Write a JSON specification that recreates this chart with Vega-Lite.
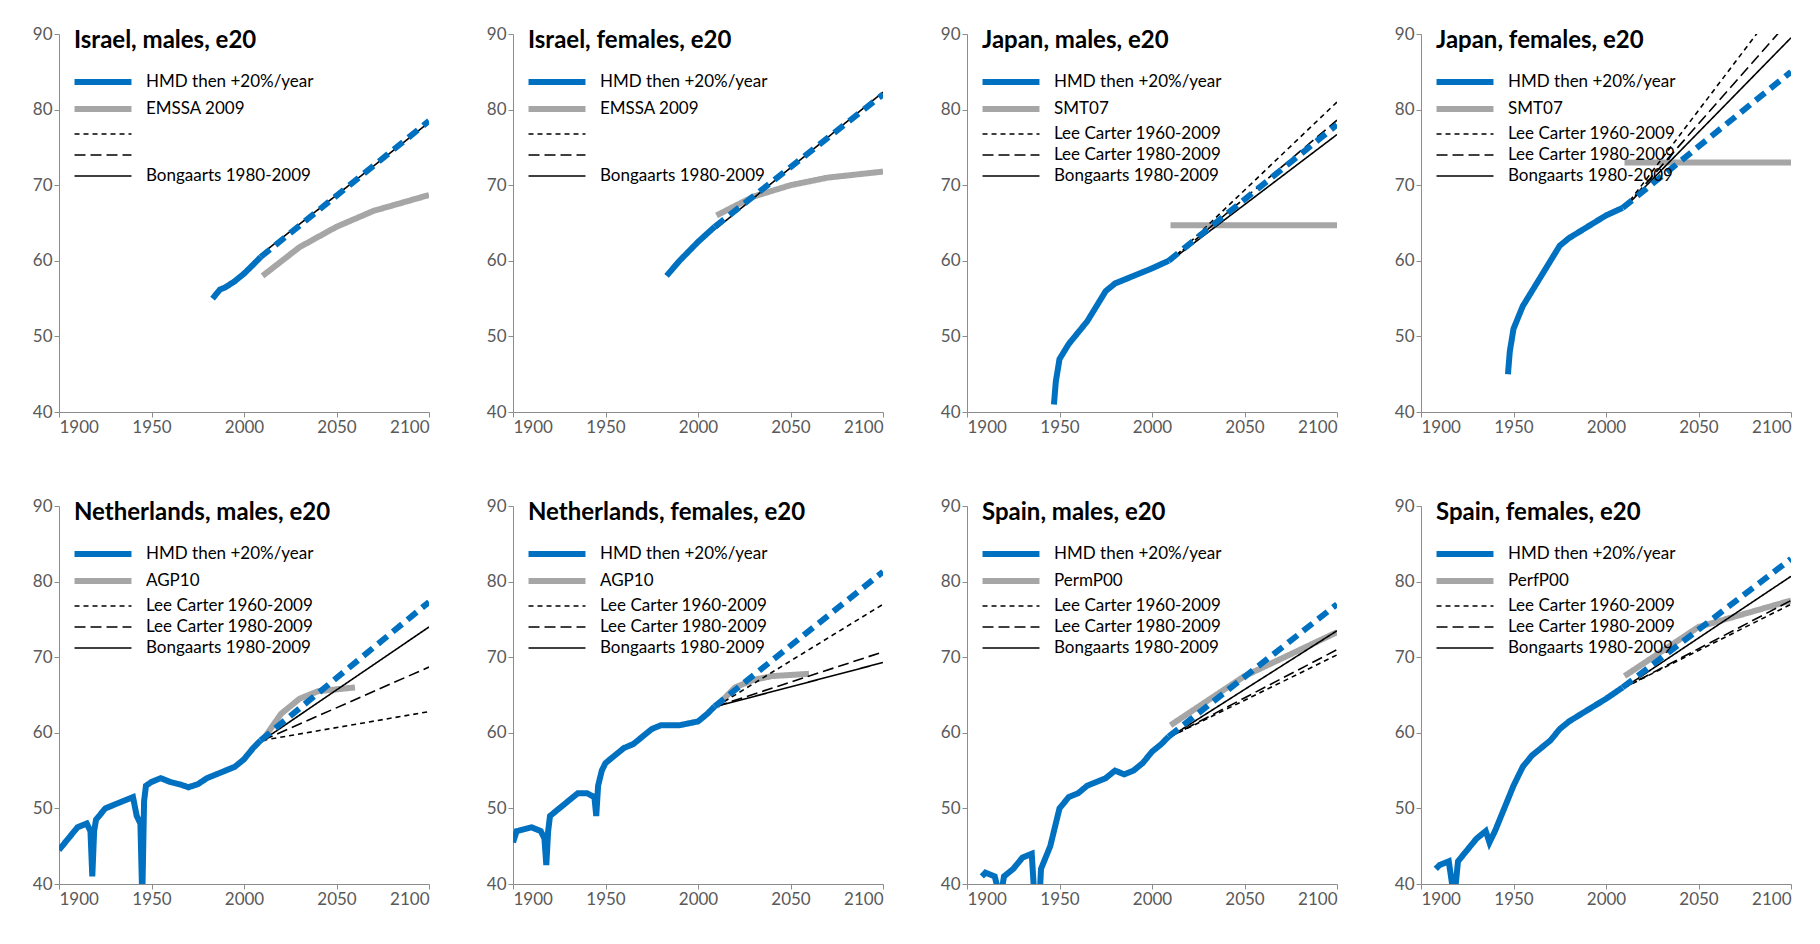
{
"$schema":"https://vega.github.io/schema/vega-lite/v6.json",
"background":"white",
"padding":{"left":32,"top":25,"right":15,"bottom":5},
"spacing":{"row":62,"column":56},
"columns":4,
"config":{"font":"Lato","view":{"stroke":null},
"axis":{"grid":false,"title":null,"labelFontSize":17,"labelColor":"#595959","domainColor":"#8c8c8c","tickColor":"#8c8c8c","labelFont":"Lato"},
"title":{"font":"Lato","fontSize":24,"fontWeight":"bold","anchor":"start","frame":"group","dx":15,"dy":32,"color":"black"},
"legend":{"orient":"none","legendX":30,"legendY":34,"labelFontSize":17,"labelFont":"Lato","symbolType":"M-2.6,0L2.6,0","symbolSize":480,"rowPadding":1,"labelOffset":29,"labelColor":"black","title":null,"labelLimit":300}},
"datasets":{"d":[
{"p":1,"s":"HMD then +20%/year","x":1983,"y":55},{"p":1,"s":"HMD then +20%/year","x":1987,"y":56.2},{"p":1,"s":"HMD then +20%/year","x":1990,"y":56.5},{"p":1,"s":"HMD then +20%/year","x":1995,"y":57.3},{"p":1,"s":"HMD then +20%/year","x":2000,"y":58.3},{"p":1,"s":"HMD then +20%/year","x":2005,"y":59.5},{"p":1,"s":"HMD then +20%/year","x":2009,"y":60.5},
{"p":1,"s":"HMDp","x":2009,"y":60.5},{"p":1,"s":"HMDp","x":2100,"y":78.5},
{"p":1,"s":"EMSSA 2009","x":2010,"y":58},{"p":1,"s":"EMSSA 2009","x":2030,"y":61.8},{"p":1,"s":"EMSSA 2009","x":2050,"y":64.5},{"p":1,"s":"EMSSA 2009","x":2070,"y":66.6},{"p":1,"s":"EMSSA 2009","x":2100,"y":68.7},
{"p":1,"s":"Bongaarts 1980-2009","x":2010,"y":61},{"p":1,"s":"Bongaarts 1980-2009","x":2100,"y":78.3},

{"p":2,"s":"HMD then +20%/year","x":1983,"y":58},{"p":2,"s":"HMD then +20%/year","x":1990,"y":60},{"p":2,"s":"HMD then +20%/year","x":2000,"y":62.5},{"p":2,"s":"HMD then +20%/year","x":2009,"y":64.5},
{"p":2,"s":"HMDp","x":2009,"y":64.5},{"p":2,"s":"HMDp","x":2100,"y":82},
{"p":2,"s":"EMSSA 2009","x":2010,"y":66},{"p":2,"s":"EMSSA 2009","x":2030,"y":68.5},{"p":2,"s":"EMSSA 2009","x":2050,"y":70},{"p":2,"s":"EMSSA 2009","x":2070,"y":71},{"p":2,"s":"EMSSA 2009","x":2100,"y":71.8},
{"p":2,"s":"Bongaarts 1980-2009","x":2010,"y":64.3},{"p":2,"s":"Bongaarts 1980-2009","x":2100,"y":82.3},

{"p":3,"s":"HMD then +20%/year","x":1947,"y":41},{"p":3,"s":"HMD then +20%/year","x":1948,"y":44},{"p":3,"s":"HMD then +20%/year","x":1950,"y":47},{"p":3,"s":"HMD then +20%/year","x":1955,"y":49},{"p":3,"s":"HMD then +20%/year","x":1960,"y":50.5},{"p":3,"s":"HMD then +20%/year","x":1965,"y":52},{"p":3,"s":"HMD then +20%/year","x":1970,"y":54},{"p":3,"s":"HMD then +20%/year","x":1975,"y":56},{"p":3,"s":"HMD then +20%/year","x":1980,"y":57},{"p":3,"s":"HMD then +20%/year","x":1985,"y":57.5},{"p":3,"s":"HMD then +20%/year","x":1990,"y":58},{"p":3,"s":"HMD then +20%/year","x":1995,"y":58.5},{"p":3,"s":"HMD then +20%/year","x":2000,"y":59},{"p":3,"s":"HMD then +20%/year","x":2009,"y":60},
{"p":3,"s":"HMDp","x":2009,"y":60},{"p":3,"s":"HMDp","x":2100,"y":78},
{"p":3,"s":"SMT07","x":2010,"y":64.7},{"p":3,"s":"SMT07","x":2100,"y":64.7},
{"p":3,"s":"Lee Carter 1960-2009","x":2010,"y":60},{"p":3,"s":"Lee Carter 1960-2009","x":2100,"y":81},
{"p":3,"s":"Lee Carter 1980-2009","x":2010,"y":60},{"p":3,"s":"Lee Carter 1980-2009","x":2100,"y":78.6},
{"p":3,"s":"Bongaarts 1980-2009","x":2010,"y":60},{"p":3,"s":"Bongaarts 1980-2009","x":2100,"y":76.7},

{"p":4,"s":"HMD then +20%/year","x":1947,"y":45},{"p":4,"s":"HMD then +20%/year","x":1948,"y":48},{"p":4,"s":"HMD then +20%/year","x":1950,"y":51},{"p":4,"s":"HMD then +20%/year","x":1955,"y":54},{"p":4,"s":"HMD then +20%/year","x":1960,"y":56},{"p":4,"s":"HMD then +20%/year","x":1965,"y":58},{"p":4,"s":"HMD then +20%/year","x":1970,"y":60},{"p":4,"s":"HMD then +20%/year","x":1975,"y":62},{"p":4,"s":"HMD then +20%/year","x":1980,"y":63},{"p":4,"s":"HMD then +20%/year","x":1990,"y":64.5},{"p":4,"s":"HMD then +20%/year","x":2000,"y":66},{"p":4,"s":"HMD then +20%/year","x":2009,"y":67},
{"p":4,"s":"HMDp","x":2009,"y":67},{"p":4,"s":"HMDp","x":2100,"y":85},
{"p":4,"s":"SMT07","x":2010,"y":73},{"p":4,"s":"SMT07","x":2100,"y":73},
{"p":4,"s":"Lee Carter 1960-2009","x":2010,"y":67},{"p":4,"s":"Lee Carter 1960-2009","x":2100,"y":96},
{"p":4,"s":"Lee Carter 1980-2009","x":2010,"y":67},{"p":4,"s":"Lee Carter 1980-2009","x":2100,"y":92},
{"p":4,"s":"Bongaarts 1980-2009","x":2010,"y":67},{"p":4,"s":"Bongaarts 1980-2009","x":2100,"y":89.5},

{"p":5,"s":"HMD then +20%/year","x":1900,"y":44.5},{"p":5,"s":"HMD then +20%/year","x":1905,"y":46},{"p":5,"s":"HMD then +20%/year","x":1910,"y":47.5},{"p":5,"s":"HMD then +20%/year","x":1915,"y":48},{"p":5,"s":"HMD then +20%/year","x":1917,"y":47},{"p":5,"s":"HMD then +20%/year","x":1918,"y":41},{"p":5,"s":"HMD then +20%/year","x":1919,"y":47},{"p":5,"s":"HMD then +20%/year","x":1920,"y":48.5},{"p":5,"s":"HMD then +20%/year","x":1925,"y":50},{"p":5,"s":"HMD then +20%/year","x":1930,"y":50.5},{"p":5,"s":"HMD then +20%/year","x":1935,"y":51},{"p":5,"s":"HMD then +20%/year","x":1940,"y":51.5},{"p":5,"s":"HMD then +20%/year","x":1942,"y":49},{"p":5,"s":"HMD then +20%/year","x":1944,"y":48},{"p":5,"s":"HMD then +20%/year","x":1945,"y":38},{"p":5,"s":"HMD then +20%/year","x":1946,"y":51},{"p":5,"s":"HMD then +20%/year","x":1947,"y":53},{"p":5,"s":"HMD then +20%/year","x":1950,"y":53.5},{"p":5,"s":"HMD then +20%/year","x":1955,"y":54},{"p":5,"s":"HMD then +20%/year","x":1960,"y":53.5},{"p":5,"s":"HMD then +20%/year","x":1965,"y":53.2},{"p":5,"s":"HMD then +20%/year","x":1970,"y":52.8},{"p":5,"s":"HMD then +20%/year","x":1975,"y":53.2},{"p":5,"s":"HMD then +20%/year","x":1980,"y":54},{"p":5,"s":"HMD then +20%/year","x":1985,"y":54.5},{"p":5,"s":"HMD then +20%/year","x":1990,"y":55},{"p":5,"s":"HMD then +20%/year","x":1995,"y":55.5},{"p":5,"s":"HMD then +20%/year","x":2000,"y":56.5},{"p":5,"s":"HMD then +20%/year","x":2005,"y":58},{"p":5,"s":"HMD then +20%/year","x":2009,"y":59},
{"p":5,"s":"HMDp","x":2009,"y":59},{"p":5,"s":"HMDp","x":2100,"y":77.3},
{"p":5,"s":"AGP10","x":2010,"y":59},{"p":5,"s":"AGP10","x":2020,"y":62.5},{"p":5,"s":"AGP10","x":2030,"y":64.5},{"p":5,"s":"AGP10","x":2040,"y":65.5},{"p":5,"s":"AGP10","x":2060,"y":66},
{"p":5,"s":"Lee Carter 1960-2009","x":2010,"y":59},{"p":5,"s":"Lee Carter 1960-2009","x":2100,"y":62.8},
{"p":5,"s":"Lee Carter 1980-2009","x":2010,"y":59},{"p":5,"s":"Lee Carter 1980-2009","x":2100,"y":68.7},
{"p":5,"s":"Bongaarts 1980-2009","x":2010,"y":59},{"p":5,"s":"Bongaarts 1980-2009","x":2100,"y":74},

{"p":6,"s":"HMD then +20%/year","x":1900,"y":45.5},{"p":6,"s":"HMD then +20%/year","x":1902,"y":47},{"p":6,"s":"HMD then +20%/year","x":1910,"y":47.5},{"p":6,"s":"HMD then +20%/year","x":1915,"y":47},{"p":6,"s":"HMD then +20%/year","x":1917,"y":46},{"p":6,"s":"HMD then +20%/year","x":1918,"y":42.5},{"p":6,"s":"HMD then +20%/year","x":1919,"y":47},{"p":6,"s":"HMD then +20%/year","x":1920,"y":49},{"p":6,"s":"HMD then +20%/year","x":1925,"y":50},{"p":6,"s":"HMD then +20%/year","x":1930,"y":51},{"p":6,"s":"HMD then +20%/year","x":1935,"y":52},{"p":6,"s":"HMD then +20%/year","x":1940,"y":52},{"p":6,"s":"HMD then +20%/year","x":1944,"y":51.5},{"p":6,"s":"HMD then +20%/year","x":1945,"y":49},{"p":6,"s":"HMD then +20%/year","x":1946,"y":53},{"p":6,"s":"HMD then +20%/year","x":1948,"y":55},{"p":6,"s":"HMD then +20%/year","x":1950,"y":56},{"p":6,"s":"HMD then +20%/year","x":1955,"y":57},{"p":6,"s":"HMD then +20%/year","x":1960,"y":58},{"p":6,"s":"HMD then +20%/year","x":1965,"y":58.5},{"p":6,"s":"HMD then +20%/year","x":1970,"y":59.5},{"p":6,"s":"HMD then +20%/year","x":1975,"y":60.5},{"p":6,"s":"HMD then +20%/year","x":1980,"y":61},{"p":6,"s":"HMD then +20%/year","x":1990,"y":61},{"p":6,"s":"HMD then +20%/year","x":2000,"y":61.5},{"p":6,"s":"HMD then +20%/year","x":2005,"y":62.5},{"p":6,"s":"HMD then +20%/year","x":2009,"y":63.5},
{"p":6,"s":"HMDp","x":2009,"y":63.5},{"p":6,"s":"HMDp","x":2100,"y":81.3},
{"p":6,"s":"AGP10","x":2010,"y":63.5},{"p":6,"s":"AGP10","x":2020,"y":66},{"p":6,"s":"AGP10","x":2030,"y":67},{"p":6,"s":"AGP10","x":2040,"y":67.5},{"p":6,"s":"AGP10","x":2060,"y":67.8},
{"p":6,"s":"Lee Carter 1960-2009","x":2010,"y":63.5},{"p":6,"s":"Lee Carter 1960-2009","x":2100,"y":77},
{"p":6,"s":"Lee Carter 1980-2009","x":2010,"y":63.5},{"p":6,"s":"Lee Carter 1980-2009","x":2100,"y":70.7},
{"p":6,"s":"Bongaarts 1980-2009","x":2010,"y":63.5},{"p":6,"s":"Bongaarts 1980-2009","x":2100,"y":69.3},

{"p":7,"s":"HMD then +20%/year","x":1908,"y":41},{"p":7,"s":"HMD then +20%/year","x":1910,"y":41.5},{"p":7,"s":"HMD then +20%/year","x":1915,"y":41},{"p":7,"s":"HMD then +20%/year","x":1918,"y":38},{"p":7,"s":"HMD then +20%/year","x":1920,"y":41},{"p":7,"s":"HMD then +20%/year","x":1925,"y":42},{"p":7,"s":"HMD then +20%/year","x":1930,"y":43.5},{"p":7,"s":"HMD then +20%/year","x":1935,"y":44},{"p":7,"s":"HMD then +20%/year","x":1936,"y":40},{"p":7,"s":"HMD then +20%/year","x":1939,"y":37},{"p":7,"s":"HMD then +20%/year","x":1940,"y":42},{"p":7,"s":"HMD then +20%/year","x":1945,"y":45},{"p":7,"s":"HMD then +20%/year","x":1950,"y":50},{"p":7,"s":"HMD then +20%/year","x":1955,"y":51.5},{"p":7,"s":"HMD then +20%/year","x":1960,"y":52},{"p":7,"s":"HMD then +20%/year","x":1965,"y":53},{"p":7,"s":"HMD then +20%/year","x":1970,"y":53.5},{"p":7,"s":"HMD then +20%/year","x":1975,"y":54},{"p":7,"s":"HMD then +20%/year","x":1980,"y":55},{"p":7,"s":"HMD then +20%/year","x":1985,"y":54.5},{"p":7,"s":"HMD then +20%/year","x":1990,"y":55},{"p":7,"s":"HMD then +20%/year","x":1995,"y":56},{"p":7,"s":"HMD then +20%/year","x":2000,"y":57.5},{"p":7,"s":"HMD then +20%/year","x":2005,"y":58.5},{"p":7,"s":"HMD then +20%/year","x":2009,"y":59.5},
{"p":7,"s":"HMDp","x":2009,"y":59.5},{"p":7,"s":"HMDp","x":2100,"y":77},
{"p":7,"s":"PermP00","x":2010,"y":61},{"p":7,"s":"PermP00","x":2050,"y":67.5},{"p":7,"s":"PermP00","x":2100,"y":73.3},
{"p":7,"s":"Lee Carter 1960-2009","x":2010,"y":59.5},{"p":7,"s":"Lee Carter 1960-2009","x":2100,"y":70.3},
{"p":7,"s":"Lee Carter 1980-2009","x":2010,"y":59.5},{"p":7,"s":"Lee Carter 1980-2009","x":2100,"y":71},
{"p":7,"s":"Bongaarts 1980-2009","x":2010,"y":59.5},{"p":7,"s":"Bongaarts 1980-2009","x":2100,"y":73.5},

{"p":8,"s":"HMD then +20%/year","x":1908,"y":42},{"p":8,"s":"HMD then +20%/year","x":1910,"y":42.5},{"p":8,"s":"HMD then +20%/year","x":1915,"y":43},{"p":8,"s":"HMD then +20%/year","x":1918,"y":38},{"p":8,"s":"HMD then +20%/year","x":1920,"y":43},{"p":8,"s":"HMD then +20%/year","x":1925,"y":44.5},{"p":8,"s":"HMD then +20%/year","x":1930,"y":46},{"p":8,"s":"HMD then +20%/year","x":1935,"y":47},{"p":8,"s":"HMD then +20%/year","x":1937,"y":45.5},{"p":8,"s":"HMD then +20%/year","x":1940,"y":47},{"p":8,"s":"HMD then +20%/year","x":1945,"y":50},{"p":8,"s":"HMD then +20%/year","x":1950,"y":53},{"p":8,"s":"HMD then +20%/year","x":1955,"y":55.5},{"p":8,"s":"HMD then +20%/year","x":1960,"y":57},{"p":8,"s":"HMD then +20%/year","x":1965,"y":58},{"p":8,"s":"HMD then +20%/year","x":1970,"y":59},{"p":8,"s":"HMD then +20%/year","x":1975,"y":60.5},{"p":8,"s":"HMD then +20%/year","x":1980,"y":61.5},{"p":8,"s":"HMD then +20%/year","x":1990,"y":63},{"p":8,"s":"HMD then +20%/year","x":2000,"y":64.5},{"p":8,"s":"HMD then +20%/year","x":2009,"y":66},
{"p":8,"s":"HMDp","x":2009,"y":66},{"p":8,"s":"HMDp","x":2100,"y":83},
{"p":8,"s":"PerfP00","x":2010,"y":67.5},{"p":8,"s":"PerfP00","x":2050,"y":74},{"p":8,"s":"PerfP00","x":2100,"y":77.5},
{"p":8,"s":"Lee Carter 1960-2009","x":2010,"y":66},{"p":8,"s":"Lee Carter 1960-2009","x":2100,"y":77},
{"p":8,"s":"Lee Carter 1980-2009","x":2010,"y":66},{"p":8,"s":"Lee Carter 1980-2009","x":2100,"y":77.5},
{"p":8,"s":"Bongaarts 1980-2009","x":2010,"y":66},{"p":8,"s":"Bongaarts 1980-2009","x":2100,"y":80.7}
]},
"concat":[
{"title":"Israel, males, e20","width":370,"height":378,"data":{"name":"d"},"transform":[{"filter":"datum.p==1"}],
"encoding":{"x":{"field":"x","type":"quantitative","scale":{"domain":[1900,2100]},"axis":{"values":[1900,1950,2000,2050,2100],"format":"d"}},"y":{"field":"y","type":"quantitative","scale":{"domain":[40,90]},"axis":{"values":[40,50,60,70,80,90]}}},
"layer":[
{"transform":[{"filter":"datum.s!='HMDp'"}],"mark":{"type":"line","clip":true},"encoding":{"color":{"field":"s","type":"nominal","scale":{"domain":["HMD then +20%/year","EMSSA 2009"," ","  ","Bongaarts 1980-2009"],"range":["#0070C0","#A6A6A6","black","black","black"]}},"strokeDash":{"field":"s","type":"nominal","scale":{"domain":["HMD then +20%/year","EMSSA 2009"," ","  ","Bongaarts 1980-2009"],"range":[[1,0],[1,0],[5,4],[11,5],[1,0]]}},"strokeWidth":{"field":"s","type":"ordinal","scale":{"type":"ordinal","domain":["HMD then +20%/year","EMSSA 2009"," ","  ","Bongaarts 1980-2009"],"range":[6,6,1.6,1.6,1.6]}}}},
{"transform":[{"filter":"datum.s=='HMDp'"}],"mark":{"type":"line","clip":true,"color":"#0070C0","strokeWidth":6,"strokeDash":[12,7]}}]},
{"title":"Israel, females, e20","width":370,"height":378,"data":{"name":"d"},"transform":[{"filter":"datum.p==2"}],
"encoding":{"x":{"field":"x","type":"quantitative","scale":{"domain":[1900,2100]},"axis":{"values":[1900,1950,2000,2050,2100],"format":"d"}},"y":{"field":"y","type":"quantitative","scale":{"domain":[40,90]},"axis":{"values":[40,50,60,70,80,90]}}},
"layer":[
{"transform":[{"filter":"datum.s!='HMDp'"}],"mark":{"type":"line","clip":true},"encoding":{"color":{"field":"s","type":"nominal","scale":{"domain":["HMD then +20%/year","EMSSA 2009"," ","  ","Bongaarts 1980-2009"],"range":["#0070C0","#A6A6A6","black","black","black"]}},"strokeDash":{"field":"s","type":"nominal","scale":{"domain":["HMD then +20%/year","EMSSA 2009"," ","  ","Bongaarts 1980-2009"],"range":[[1,0],[1,0],[5,4],[11,5],[1,0]]}},"strokeWidth":{"field":"s","type":"ordinal","scale":{"type":"ordinal","domain":["HMD then +20%/year","EMSSA 2009"," ","  ","Bongaarts 1980-2009"],"range":[6,6,1.6,1.6,1.6]}}}},
{"transform":[{"filter":"datum.s=='HMDp'"}],"mark":{"type":"line","clip":true,"color":"#0070C0","strokeWidth":6,"strokeDash":[12,7]}}]},
{"title":"Japan, males, e20","width":370,"height":378,"data":{"name":"d"},"transform":[{"filter":"datum.p==3"}],
"encoding":{"x":{"field":"x","type":"quantitative","scale":{"domain":[1900,2100]},"axis":{"values":[1900,1950,2000,2050,2100],"format":"d"}},"y":{"field":"y","type":"quantitative","scale":{"domain":[40,90]},"axis":{"values":[40,50,60,70,80,90]}}},
"layer":[
{"transform":[{"filter":"datum.s!='HMDp'"}],"mark":{"type":"line","clip":true},"encoding":{"color":{"field":"s","type":"nominal","scale":{"domain":["HMD then +20%/year","SMT07","Lee Carter 1960-2009","Lee Carter 1980-2009","Bongaarts 1980-2009"],"range":["#0070C0","#A6A6A6","black","black","black"]}},"strokeDash":{"field":"s","type":"nominal","scale":{"domain":["HMD then +20%/year","SMT07","Lee Carter 1960-2009","Lee Carter 1980-2009","Bongaarts 1980-2009"],"range":[[1,0],[1,0],[5,4],[11,5],[1,0]]}},"strokeWidth":{"field":"s","type":"ordinal","scale":{"type":"ordinal","domain":["HMD then +20%/year","SMT07","Lee Carter 1960-2009","Lee Carter 1980-2009","Bongaarts 1980-2009"],"range":[6,6,1.6,1.6,1.6]}}}},
{"transform":[{"filter":"datum.s=='HMDp'"}],"mark":{"type":"line","clip":true,"color":"#0070C0","strokeWidth":6,"strokeDash":[12,7]}}]},
{"title":"Japan, females, e20","width":370,"height":378,"data":{"name":"d"},"transform":[{"filter":"datum.p==4"}],
"encoding":{"x":{"field":"x","type":"quantitative","scale":{"domain":[1900,2100]},"axis":{"values":[1900,1950,2000,2050,2100],"format":"d"}},"y":{"field":"y","type":"quantitative","scale":{"domain":[40,90]},"axis":{"values":[40,50,60,70,80,90]}}},
"layer":[
{"transform":[{"filter":"datum.s!='HMDp'"}],"mark":{"type":"line","clip":true},"encoding":{"color":{"field":"s","type":"nominal","scale":{"domain":["HMD then +20%/year","SMT07","Lee Carter 1960-2009","Lee Carter 1980-2009","Bongaarts 1980-2009"],"range":["#0070C0","#A6A6A6","black","black","black"]}},"strokeDash":{"field":"s","type":"nominal","scale":{"domain":["HMD then +20%/year","SMT07","Lee Carter 1960-2009","Lee Carter 1980-2009","Bongaarts 1980-2009"],"range":[[1,0],[1,0],[5,4],[11,5],[1,0]]}},"strokeWidth":{"field":"s","type":"ordinal","scale":{"type":"ordinal","domain":["HMD then +20%/year","SMT07","Lee Carter 1960-2009","Lee Carter 1980-2009","Bongaarts 1980-2009"],"range":[6,6,1.6,1.6,1.6]}}}},
{"transform":[{"filter":"datum.s=='HMDp'"}],"mark":{"type":"line","clip":true,"color":"#0070C0","strokeWidth":6,"strokeDash":[12,7]}}]},
{"title":"Netherlands, males, e20","width":370,"height":378,"data":{"name":"d"},"transform":[{"filter":"datum.p==5"}],
"encoding":{"x":{"field":"x","type":"quantitative","scale":{"domain":[1900,2100]},"axis":{"values":[1900,1950,2000,2050,2100],"format":"d"}},"y":{"field":"y","type":"quantitative","scale":{"domain":[40,90]},"axis":{"values":[40,50,60,70,80,90]}}},
"layer":[
{"transform":[{"filter":"datum.s!='HMDp'"}],"mark":{"type":"line","clip":true},"encoding":{"color":{"field":"s","type":"nominal","scale":{"domain":["HMD then +20%/year","AGP10","Lee Carter 1960-2009","Lee Carter 1980-2009","Bongaarts 1980-2009"],"range":["#0070C0","#A6A6A6","black","black","black"]}},"strokeDash":{"field":"s","type":"nominal","scale":{"domain":["HMD then +20%/year","AGP10","Lee Carter 1960-2009","Lee Carter 1980-2009","Bongaarts 1980-2009"],"range":[[1,0],[1,0],[5,4],[11,5],[1,0]]}},"strokeWidth":{"field":"s","type":"ordinal","scale":{"type":"ordinal","domain":["HMD then +20%/year","AGP10","Lee Carter 1960-2009","Lee Carter 1980-2009","Bongaarts 1980-2009"],"range":[6,6,1.6,1.6,1.6]}}}},
{"transform":[{"filter":"datum.s=='HMDp'"}],"mark":{"type":"line","clip":true,"color":"#0070C0","strokeWidth":6,"strokeDash":[12,7]}}]},
{"title":"Netherlands, females, e20","width":370,"height":378,"data":{"name":"d"},"transform":[{"filter":"datum.p==6"}],
"encoding":{"x":{"field":"x","type":"quantitative","scale":{"domain":[1900,2100]},"axis":{"values":[1900,1950,2000,2050,2100],"format":"d"}},"y":{"field":"y","type":"quantitative","scale":{"domain":[40,90]},"axis":{"values":[40,50,60,70,80,90]}}},
"layer":[
{"transform":[{"filter":"datum.s!='HMDp'"}],"mark":{"type":"line","clip":true},"encoding":{"color":{"field":"s","type":"nominal","scale":{"domain":["HMD then +20%/year","AGP10","Lee Carter 1960-2009","Lee Carter 1980-2009","Bongaarts 1980-2009"],"range":["#0070C0","#A6A6A6","black","black","black"]}},"strokeDash":{"field":"s","type":"nominal","scale":{"domain":["HMD then +20%/year","AGP10","Lee Carter 1960-2009","Lee Carter 1980-2009","Bongaarts 1980-2009"],"range":[[1,0],[1,0],[5,4],[11,5],[1,0]]}},"strokeWidth":{"field":"s","type":"ordinal","scale":{"type":"ordinal","domain":["HMD then +20%/year","AGP10","Lee Carter 1960-2009","Lee Carter 1980-2009","Bongaarts 1980-2009"],"range":[6,6,1.6,1.6,1.6]}}}},
{"transform":[{"filter":"datum.s=='HMDp'"}],"mark":{"type":"line","clip":true,"color":"#0070C0","strokeWidth":6,"strokeDash":[12,7]}}]},
{"title":"Spain, males, e20","width":370,"height":378,"data":{"name":"d"},"transform":[{"filter":"datum.p==7"}],
"encoding":{"x":{"field":"x","type":"quantitative","scale":{"domain":[1900,2100]},"axis":{"values":[1900,1950,2000,2050,2100],"format":"d"}},"y":{"field":"y","type":"quantitative","scale":{"domain":[40,90]},"axis":{"values":[40,50,60,70,80,90]}}},
"layer":[
{"transform":[{"filter":"datum.s!='HMDp'"}],"mark":{"type":"line","clip":true},"encoding":{"color":{"field":"s","type":"nominal","scale":{"domain":["HMD then +20%/year","PermP00","Lee Carter 1960-2009","Lee Carter 1980-2009","Bongaarts 1980-2009"],"range":["#0070C0","#A6A6A6","black","black","black"]}},"strokeDash":{"field":"s","type":"nominal","scale":{"domain":["HMD then +20%/year","PermP00","Lee Carter 1960-2009","Lee Carter 1980-2009","Bongaarts 1980-2009"],"range":[[1,0],[1,0],[5,4],[11,5],[1,0]]}},"strokeWidth":{"field":"s","type":"ordinal","scale":{"type":"ordinal","domain":["HMD then +20%/year","PermP00","Lee Carter 1960-2009","Lee Carter 1980-2009","Bongaarts 1980-2009"],"range":[6,6,1.6,1.6,1.6]}}}},
{"transform":[{"filter":"datum.s=='HMDp'"}],"mark":{"type":"line","clip":true,"color":"#0070C0","strokeWidth":6,"strokeDash":[12,7]}}]},
{"title":"Spain, females, e20","width":370,"height":378,"data":{"name":"d"},"transform":[{"filter":"datum.p==8"}],
"encoding":{"x":{"field":"x","type":"quantitative","scale":{"domain":[1900,2100]},"axis":{"values":[1900,1950,2000,2050,2100],"format":"d"}},"y":{"field":"y","type":"quantitative","scale":{"domain":[40,90]},"axis":{"values":[40,50,60,70,80,90]}}},
"layer":[
{"transform":[{"filter":"datum.s!='HMDp'"}],"mark":{"type":"line","clip":true},"encoding":{"color":{"field":"s","type":"nominal","scale":{"domain":["HMD then +20%/year","PerfP00","Lee Carter 1960-2009","Lee Carter 1980-2009","Bongaarts 1980-2009"],"range":["#0070C0","#A6A6A6","black","black","black"]}},"strokeDash":{"field":"s","type":"nominal","scale":{"domain":["HMD then +20%/year","PerfP00","Lee Carter 1960-2009","Lee Carter 1980-2009","Bongaarts 1980-2009"],"range":[[1,0],[1,0],[5,4],[11,5],[1,0]]}},"strokeWidth":{"field":"s","type":"ordinal","scale":{"type":"ordinal","domain":["HMD then +20%/year","PerfP00","Lee Carter 1960-2009","Lee Carter 1980-2009","Bongaarts 1980-2009"],"range":[6,6,1.6,1.6,1.6]}}}},
{"transform":[{"filter":"datum.s=='HMDp'"}],"mark":{"type":"line","clip":true,"color":"#0070C0","strokeWidth":6,"strokeDash":[12,7]}}]}
],
"resolve":{"scale":{"color":"independent","strokeDash":"independent","strokeWidth":"independent"},"legend":{"color":"independent","strokeDash":"independent","strokeWidth":"independent"}}
}
